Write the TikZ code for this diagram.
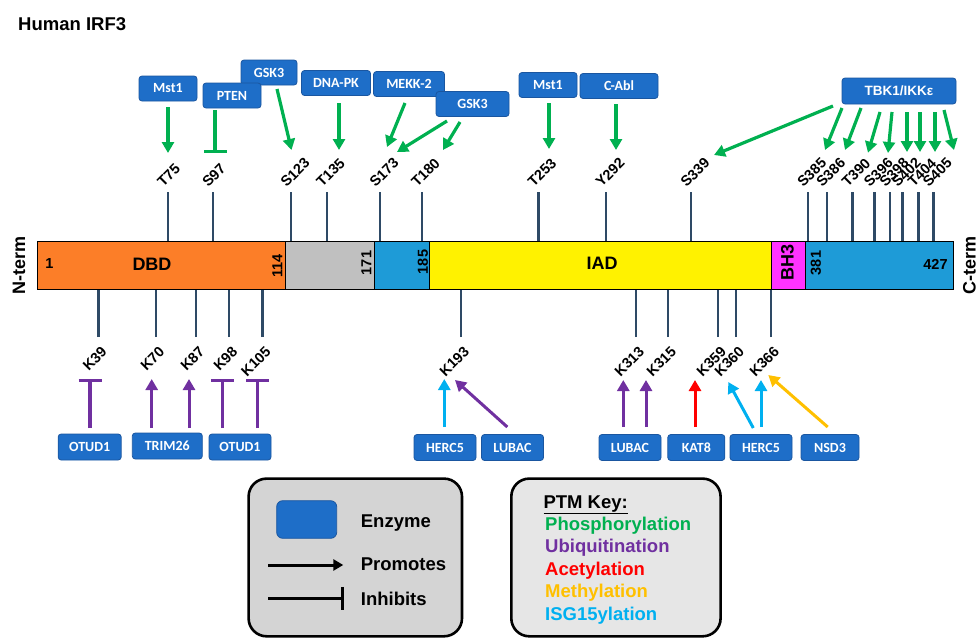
\documentclass[tikz,border=0pt]{standalone}
\usepackage{fontspec}
\setmainfont{Liberation Sans}
\newfontfamily\boxfont{Carlito}
\usetikzlibrary{arrows.meta,calc}
\definecolor{enz}{HTML}{1E6EC8}
\definecolor{enzb}{HTML}{1A56A0}
\definecolor{pho}{HTML}{00B050}
\definecolor{ubi}{HTML}{7030A0}
\definecolor{ace}{HTML}{FF0000}
\definecolor{met}{HTML}{FFC000}
\definecolor{isg}{HTML}{00B0F0}
\definecolor{stemc}{HTML}{2E4A66}
\definecolor{dbdc}{HTML}{FC7E28}
\definecolor{grc}{HTML}{C0C0C0}
\definecolor{cyc}{HTML}{1E9BD7}
\definecolor{bhc}{HTML}{FF33FF}
\definecolor{legLc}{HTML}{D4D4D4}
\definecolor{legRc}{HTML}{E6E6E6}
\begin{document}
\begin{tikzpicture}[x=1pt,y=-1pt,
 enzyme/.style={draw=enzb,fill=enz,rounded corners=3pt,line width=0.8pt,text=white,font=\boxfont\bfseries\fontsize{14}{16}\selectfont,inner sep=0pt,minimum height=25pt},
 site/.style={rotate=45,inner sep=0pt,font=\bfseries\fontsize{14.5}{16}\selectfont},
 stem/.style={draw=stemc,line width=2.4pt},
 prom/.style={line width=3.2pt,-{Triangle[length=11pt,width=12pt]}},
 inhib/.style={line width=3.4pt,-{Bar[width=23pt]}},
 seg/.style={draw=black,line width=1.4pt,inner sep=0pt,anchor=north west,minimum height=48pt},
 bartxt/.style={inner sep=0pt,font=\bfseries\fontsize{18}{20}\selectfont},
 num/.style={inner sep=0pt,font=\bfseries\fontsize{14.5}{16}\selectfont},
 legtxt/.style={inner sep=0pt,anchor=base west,font=\bfseries\fontsize{18.5}{20}\selectfont},
 legbox/.style={draw=black,line width=2.6pt,rounded corners=18pt,anchor=north west,inner sep=0pt}
]
\useasboundingbox (0,0) rectangle (979,637);

% title
\node[inner sep=0pt,anchor=base west,font=\bfseries\fontsize{18.5}{20}\selectfont] (title) at (18,30) {Human IRF3};

% invisible bar frame
\node[seg,draw=none,minimum width=916.3pt] (bar) at (36.7,241) {};

% top sites
\foreach \n/\x in {T75/167.7,S97/212.7,S123/291,T135/326.7,S173/380,T180/421.7,T253/538.3,Y292/606,S339/691,S385/807.7,S386/826.7,T390/852.3,S396/874.3,S398/890,S402/902.3,T404/918.3,S405/933.3}{
 \coordinate (st\n) at (\x,192);
 \draw[stem] (st\n) -- (st\n |- bar.north);
 \node[site,anchor=west] (l\n) at (\x-8,184.5) {\n};
}
% bottom sites
\foreach \n/\x in {K39/98.3,K70/156,K87/196,K98/229,K105/262.3,K193/460.7,K313/635.7,K315/667.7,K359/717.7,K360/735.7,K366/770.7}{
 \coordinate (sb\n) at (\x,337);
 \draw[stem] (sb\n) -- (sb\n |- bar.south);
 \node[site,anchor=east] (l\n) at (\x+6,349) {\n};
}

% bar segments
\node[seg,fill=dbdc,minimum width=248.3pt] (dbd) at (36.7,241) {};
\node[seg,fill=grc,minimum width=89pt] (lnk) at (285,241) {};
\node[seg,fill=cyc,minimum width=55pt] (sd) at (374,241) {};
\node[seg,fill=yellow,minimum width=342pt] (iad) at (429,241) {};
\node[seg,fill=bhc,minimum width=34pt] (bh3) at (771,241) {};
\node[seg,fill=cyc,minimum width=148pt] (ctd) at (805,241) {};

\node[num] (n1) at (49.5,264) {1};
\node[bartxt] (tDBD) at (152,264) {DBD};
\node[num,rotate=90] (n114) at (277.5,266) {114};
\node[num,rotate=90] (n171) at (366.5,263) {171};
\node[num,rotate=90] (n185) at (423,262) {185};
\node[bartxt] (tIAD) at (602,263) {IAD};
\node[bartxt,rotate=90] (tBH3) at (787.5,262) {BH3};
\node[num,rotate=90] (n381) at (816,263) {381};
\node[num] (n427) at (935.5,264) {427};
\node[bartxt,rotate=90] (nterm) at (19,265) {N-term};
\node[bartxt,rotate=90] (cterm) at (969.5,265) {C-term};

% top enzymes
\node[enzyme,minimum width=58pt] (mstA) at (168,88.5) {Mst1};
\node[enzyme,minimum width=56pt] (gskA) at (269,72.5) {GSK3};
\node[enzyme,minimum width=58pt] (pten) at (232,95.5) {PTEN};
\node[enzyme,minimum width=69pt] (dnapk) at (336,83) {DNA-PK};
\node[enzyme,minimum width=71pt] (mekk) at (409,84) {MEKK-2};
\node[enzyme,minimum width=73pt] (gskB) at (472.5,104) {GSK3};
\node[enzyme,minimum width=58pt] (mstB) at (548,85) {Mst1};
\node[enzyme,minimum width=78pt] (cabl) at (619,86) {C-Abl};
\node[enzyme,minimum width=114pt,minimum height=26pt,font=\bfseries\fontsize{13.5}{15}\selectfont] (tbk) at (899,91) {TBK1/IKKε};

% top arrows
\foreach \n/\sx/\sy/\ex/\ey in {mA/168/107/168/153,gA/277/89/291.5/150,dp/339/103/339/150,mk/405/103/387/147,gBa/447/121/397/152,gBb/460/122/443/150,mB/549/103/549/149,ca/616/104/616/150,ta/833/106/714/155,tb/842/108/825/150,tc/861/108/845/150,td/880/112/868/152.7,te/892/112/888/153,tf/907/112/907/152,tg/920/112/920/152,th/935/112/935/152,ti/944/110/954/150}{
 \coordinate (a\n) at (\sx,\sy);
 \coordinate (b\n) at (\ex,\ey);
 \draw[prom,color=pho] (a\n) -- (b\n);
}
\coordinate (aP) at (215,110);
\coordinate (bP) at (215,153);
\draw[inhib,color=pho] (aP) -- (bP);

% bottom enzymes
\node[enzyme,minimum width=63pt,minimum height=26pt] (otA) at (89.7,447) {OTUD1};
\node[enzyme,minimum width=70pt,minimum height=26pt] (trim) at (167.3,446) {TRIM26};
\node[enzyme,minimum width=62pt,minimum height=26pt] (otB) at (240,447) {OTUD1};
\node[enzyme,minimum width=62pt,minimum height=26pt] (herA) at (445,447.5) {HERC5};
\node[enzyme,minimum width=62pt,minimum height=26pt] (lubA) at (512.5,447.5) {LUBAC};
\node[enzyme,minimum width=62pt,minimum height=26pt] (lubB) at (630,447.5) {LUBAC};
\node[enzyme,minimum width=57pt,minimum height=26pt] (kat) at (696.3,447.5) {KAT8};
\node[enzyme,minimum width=62pt,minimum height=26pt] (herB) at (761,447.5) {HERC5};
\node[enzyme,minimum width=58pt,minimum height=26pt] (nsd) at (830,447.5) {NSD3};

% bottom arrows
\foreach \n/\c/\sx/\sy/\ex/\ey in {ka/ubi/151.7/428/151.7/379,kb/ubi/189/428/189/379,kc/isg/444.3/427/444.3/379,kd/ubi/507.3/427/455/380,ke/ubi/623.3/427/623.3/380,kf/ubi/646/427/646/380,kg/ace/695/427/695/380,kh/isg/753.3/428/728.3/382,ki/isg/761/427/761/380,kj/met/827.7/427/768.3/375}{
 \coordinate (c\n) at (\sx,\sy);
 \coordinate (d\n) at (\ex,\ey);
 \draw[prom,line width=3pt,color=\c] (c\n) -- (d\n);
}
\foreach \n/\x in {ua/90,ub/222.3,uc/257.7}{
 \coordinate (c\n) at (\x,428);
 \coordinate (d\n) at (\x,379);
 \draw[inhib,color=ubi] (c\n) -- (d\n);
}

% legend left
\node[legbox,fill=legLc,minimum width=213.4pt,minimum height=157.7pt] (legL) at (247.3,477.3) {};
\node[enzyme,minimum width=60pt,minimum height=37.6pt,rounded corners=6pt] (legE) at (306.7,519.5) {};
\node[legtxt] (tE) at (360.7,527.3) {Enzyme};
\coordinate (pA) at (268.3,565);
\coordinate (pB) at (343.3,565);
\draw[line width=3pt,-{Triangle[length=10pt,width=11pt]}] (pA) -- (pB);
\node[legtxt] (tP) at (360.7,570) {Promotes};
\coordinate (iA) at (268,598.3);
\coordinate (iB) at (344.3,598.3);
\draw[line width=3pt,-{Bar[width=23pt]}] (iA) -- (iB);
\node[legtxt] (tI) at (360.7,605) {Inhibits};

% legend right
\node[legbox,fill=legRc,minimum width=209.3pt,minimum height=157.7pt] (legR) at (510,477.3) {};
\node[legtxt] (tK) at (543.3,508.3) {\underline{PTM Key:}};
\node[legtxt,text=pho] (tPh) at (545,530) {Phosphorylation};
\node[legtxt,text=ubi] (tUb) at (545,552) {Ubiquitination};
\node[legtxt,text=ace] (tAc) at (545,575) {Acetylation};
\node[legtxt,text=met] (tMe) at (545,597.7) {Methylation};
\node[legtxt,text=isg] (tIs) at (545,620) {ISG15ylation};
\end{tikzpicture}
\end{document}
